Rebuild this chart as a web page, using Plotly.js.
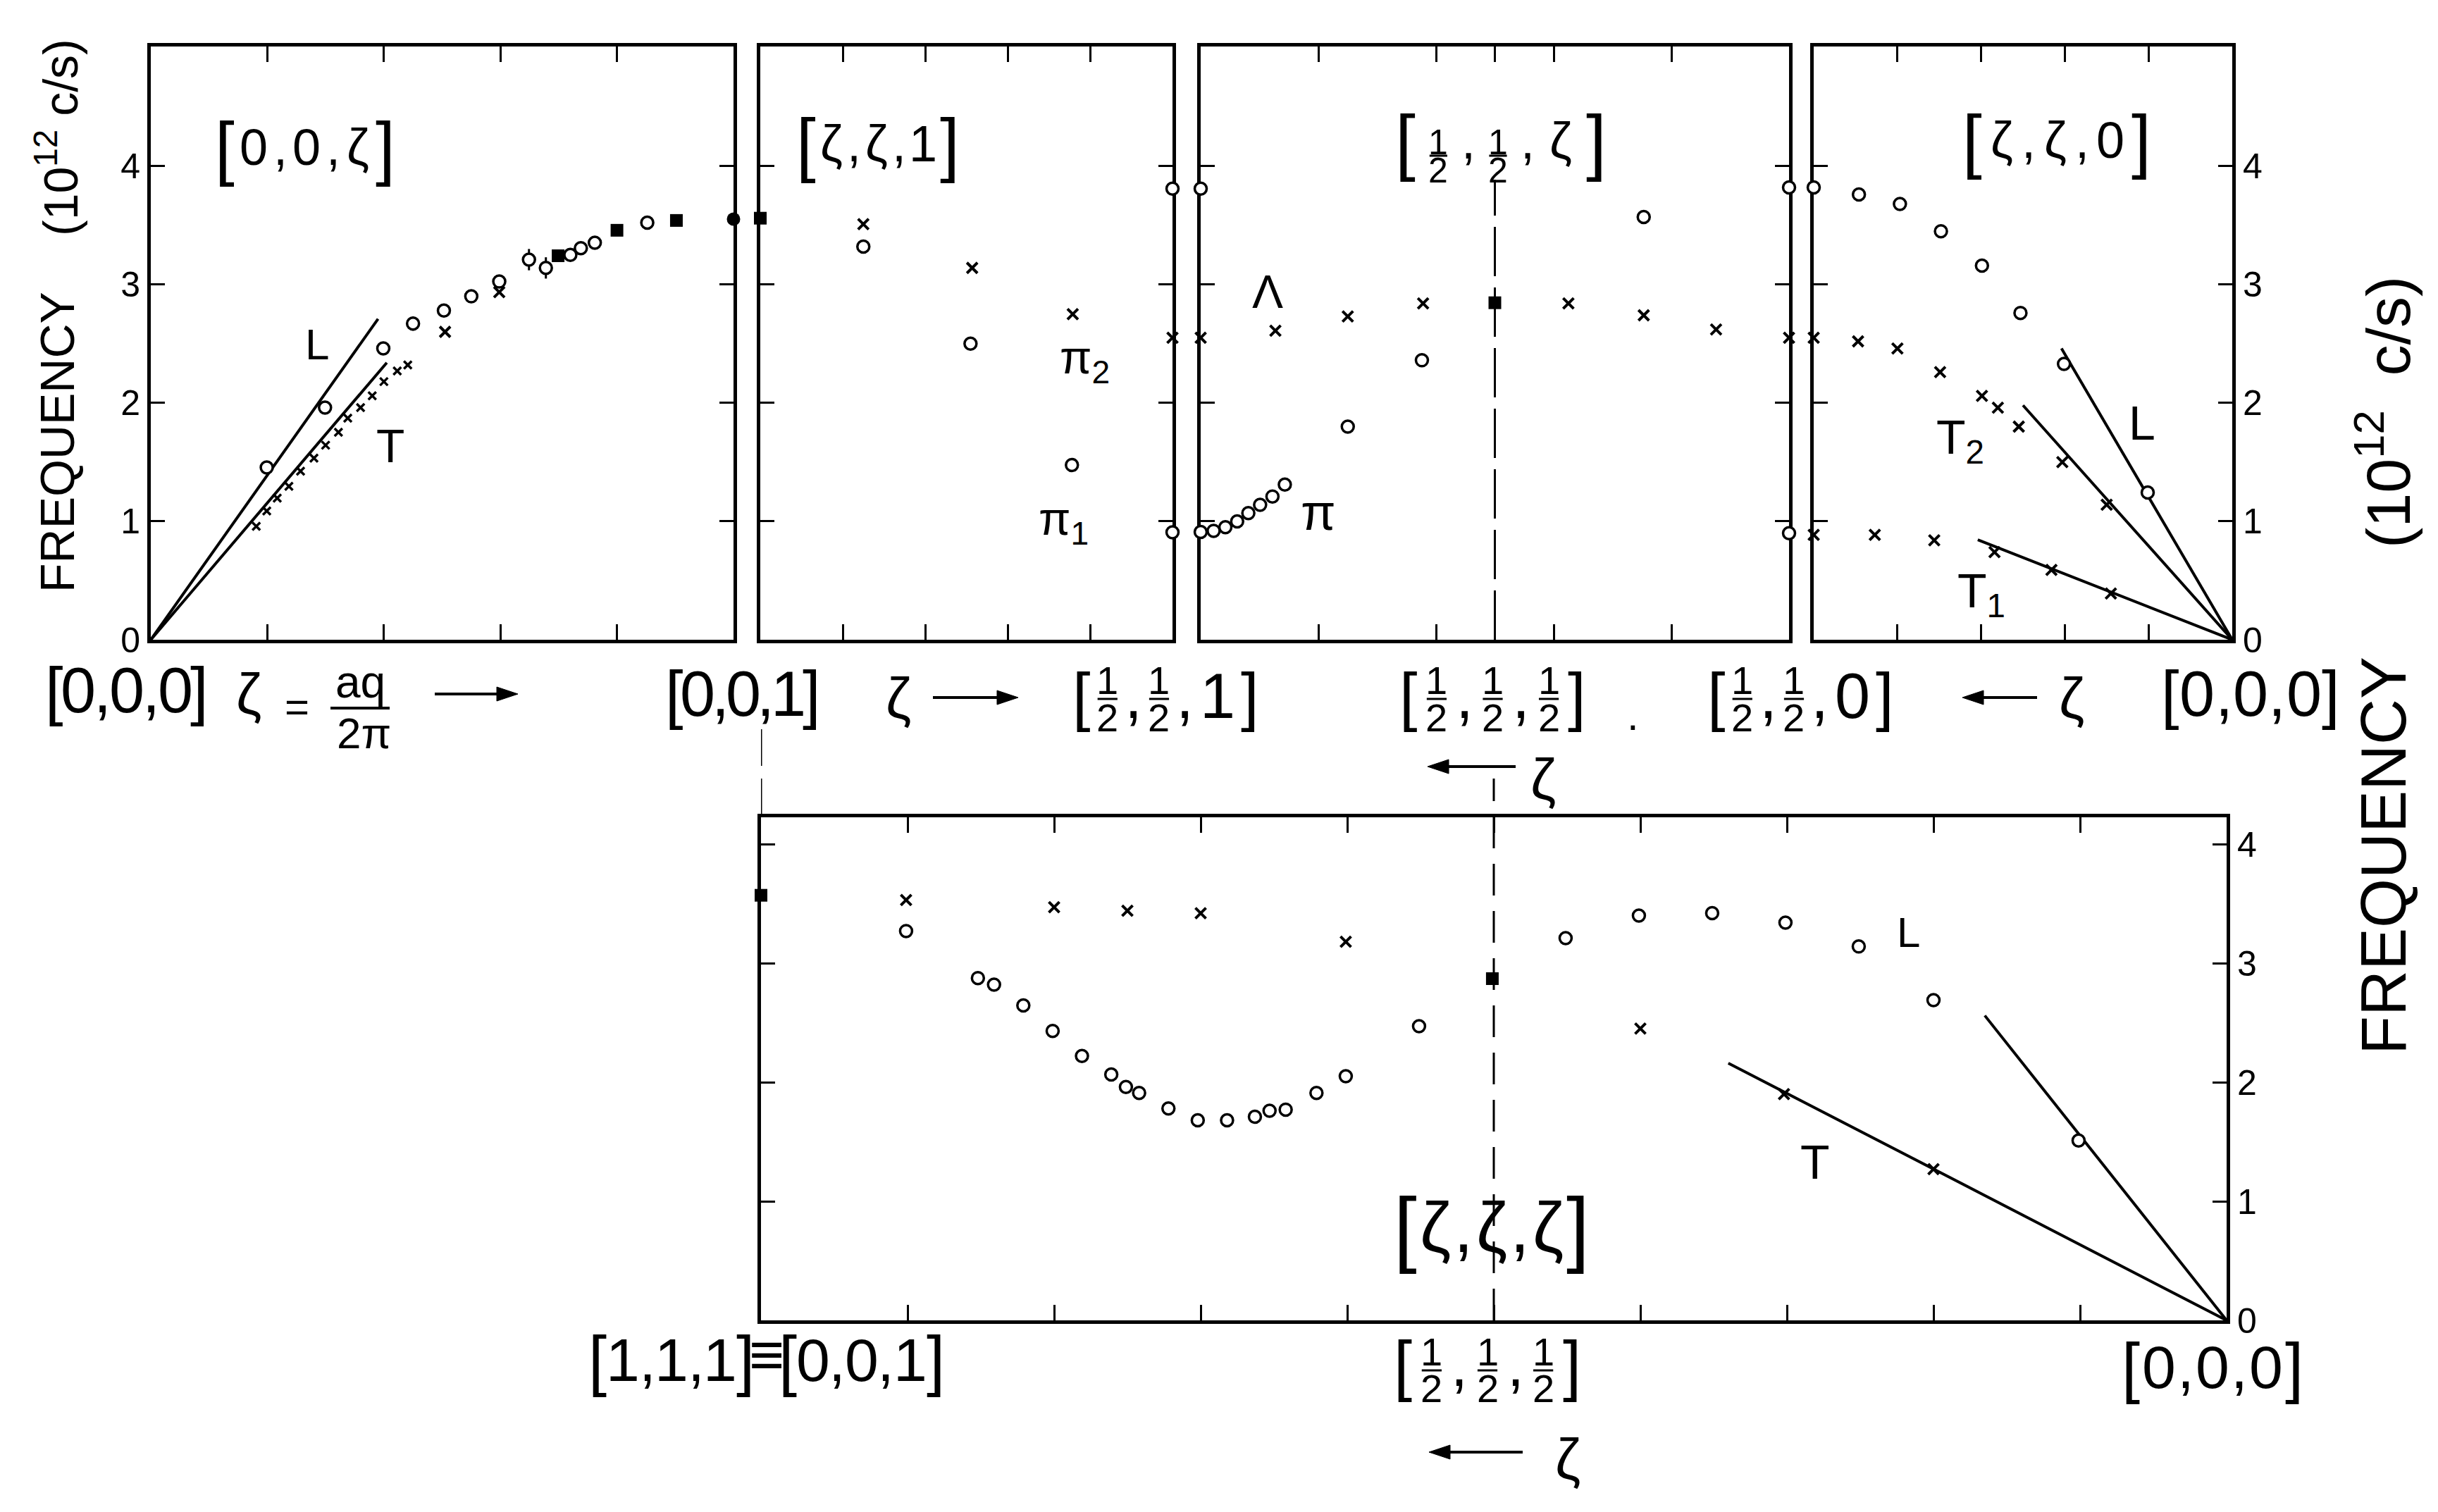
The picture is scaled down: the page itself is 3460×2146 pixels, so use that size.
<!DOCTYPE html>
<html><head><meta charset="utf-8">
<script src="https://cdn.plot.ly/plotly-3.0.1.min.js"></script>
<style>html,body{margin:0;padding:0;background:#fff;}#chart{width:3460px;height:2146px;}</style>
</head><body><div id="chart"></div>
<script>
// ================= DATA =================
// Panel 1 : [0,0,ζ]  (ζ from 0 to 1)
const p1LZeta  = [0.199,0.299,0.399,0.450,0.503,0.550,0.598,0.649,0.678,0.720,0.738,0.762,0.852];
const p1LFreq  = [1.455,1.960,2.460,2.670,2.780,2.900,3.025,3.210,3.140,3.250,3.307,3.353,3.522];
const p1LErr   = [0,0,0,0.06,0,0,0,0.09,0.09,0,0,0,0];
const p1TZeta  = [0.181,0.199,0.217,0.237,0.257,0.280,0.300,0.322,0.338,0.360,0.380,0.400,0.423,0.441];
const p1TFreq  = [0.958,1.087,1.196,1.295,1.424,1.534,1.643,1.752,1.871,1.961,2.060,2.180,2.270,2.320];
const p1XZeta  = [0.505,0.598];
const p1XFreq  = [2.600,2.936];
const p1SqZeta = [0.699,0.800,0.902];
const p1SqFreq = [3.243,3.458,3.541];
const p1DotZeta = [1.0];
const p1DotFreq = [3.552];
const p1LineLZeta = [0,0.390], p1LineLFreq = [0,2.71];
const p1LineTZeta = [0,0.405], p1LineTFreq = [0,2.34];

// Panel 2 : [ζ,ζ,1]  (ζ from 0 to 1/2)
const p2XZeta  = [0.125,0.257,0.379,0.5];
const p2XFreq  = [3.51,3.14,2.75,2.55];
const p2OZeta  = [0.125,0.255,0.378,0.5,0.5];
const p2OFreq  = [3.32,2.50,1.476,3.81,0.907];
const p2SqZeta = [0];
const p2SqFreq = [3.56];

// Panel 3 : [1/2,1/2,ζ]  (ζ from 1 to 0)
const p3OZeta  = [1.0,1.0,0.978,0.958,0.938,0.919,0.899,0.878,0.857,0.750,0.624,0.247,0,0];
const p3OFreq  = [3.81,0.91,0.92,0.95,1.00,1.07,1.14,1.21,1.31,1.80,2.36,3.57,3.82,0.90];
const p3XZeta  = [1.0,0.873,0.750,0.622,0.375,0.247,0.124,0];
const p3XFreq  = [2.55,2.61,2.73,2.84,2.84,2.74,2.62,2.55];
const p3SqZeta = [0.5];
const p3SqFreq = [2.846];

// Panel 4 : [ζ,ζ,0]  (ζ from 1/2 to 0)
const p4OZeta  = [0.5,0.446,0.397,0.348,0.299,0.253,0.201,0.101];
const p4OFreq  = [3.82,3.76,3.68,3.45,3.16,2.76,2.33,1.243];
const p4T2Zeta = [0.5,0.447,0.400,0.349,0.299,0.280,0.255,0.203,0.150];
const p4T2Freq = [2.55,2.52,2.46,2.26,2.06,1.96,1.80,1.50,1.14];
const p4T1Zeta = [0.5,0.427,0.356,0.284,0.216,0.145];
const p4T1Freq = [0.886,0.886,0.84,0.74,0.59,0.39];
const p4LineLZeta  = [0,0.204], p4LineLFreq  = [0,2.46];
const p4LineT2Zeta = [0,0.250], p4LineT2Freq = [0,1.98];
const p4LineT1Zeta = [0,0.304], p4LineT1Freq = [0,0.844];

// Panel 5 : [ζ,ζ,ζ]  (ζ from 1 to 0)
const p5SqZeta = [1.0,0.501];
const p5SqFreq = [3.57,2.87];
const p5XZeta  = [0.901,0.800,0.750,0.700,0.601,0.400,0.302,0.200];
const p5XFreq  = [3.53,3.47,3.44,3.42,3.18,2.45,1.90,1.27];
const p5OZeta  = [0.901,0.852,0.841,0.821,0.801,0.781,0.761,0.751,0.742,0.722,0.702,0.682,0.663,0.653,0.642,0.621,0.601,0.551,0.451,0.401,0.351,0.301,0.251,0.200,0.101];
const p5OFreq  = [3.27,2.875,2.82,2.645,2.43,2.22,2.065,1.96,1.91,1.78,1.68,1.68,1.71,1.76,1.77,1.91,2.05,2.47,3.21,3.40,3.42,3.34,3.14,2.69,1.51];
const p5LineLZeta = [0,0.165], p5LineLFreq = [0,2.56];
const p5LineTZeta = [0,0.340], p5LineTFreq = [0,2.16];

// tick values
const topXTicks1 = [0.2,0.4,0.6,0.8];
const topXTicks2 = [0.1,0.2,0.3,0.4];
const topXTicks3 = [0.8,0.6,0.5,0.4,0.2];
const topXTicks4 = [0.4,0.3,0.2,0.1];
const botXTicks  = [0.1,0.2,0.3,0.4,0.5,0.6,0.7,0.8,0.9];
const freqTicks  = [0,1,2,3,4];
const freqLabels = ['0','1','2','3','4'];

// ================= LAYOUT HELPERS =================
const W = 3460, H = 2146;
const FONT = 'Liberation Sans, Arial, sans-serif';
const px = x => x / W;
const py = y => 1 - y / H;

function xAxis(a, b, range, ticks, anchor) {
  return {domain:[px(a), px(b)], range:range, tickmode:'array', tickvals:ticks,
    ticks:'inside', ticklen:22, tickwidth:3, tickcolor:'black', showticklabels:false,
    showline:true, linewidth:5, linecolor:'black', mirror:'ticks', showgrid:false,
    zeroline:false, anchor:anchor, layer:'below traces', fixedrange:true};
}
function yAxis(a, b, range, anchor, side, labels) {
  return {domain:[py(b), py(a)], range:range, tickmode:'array', tickvals:freqTicks, ticktext:freqLabels,
    ticks:'inside', ticklen:20, tickwidth:3, tickcolor:'black', showticklabels:labels, side:side,
    tickfont:{family:FONT, size:50, color:'black'},
    showline:true, linewidth:5, linecolor:'black', mirror:'ticks', showgrid:false,
    zeroline:false, anchor:anchor, layer:'below traces', fixedrange:true};
}

const OPEN  = {symbol:'circle', size:17, color:'white', line:{color:'black', width:3.5}};
const CROSS = {symbol:'x-thin', size:15, color:'black', line:{color:'black', width:4}};
const SMALLX= {symbol:'x-thin', size:11, color:'black', line:{color:'black', width:3.5}};
const SQ    = {symbol:'square', size:18, color:'black', line:{width:0}};
const DOT   = {symbol:'circle', size:19, color:'black', line:{width:0}};

const traces = [];
function pts(x, y, xa, ya, marker, extra) {
  traces.push(Object.assign({type:'scatter', mode:'markers', x:x, y:y, xaxis:xa, yaxis:ya,
    marker:marker, cliponaxis:false, hoverinfo:'skip', showlegend:false}, extra || {}));
}
function line(x, y, xa, ya) {
  traces.push({type:'scatter', mode:'lines', x:x, y:y, xaxis:xa, yaxis:ya,
    line:{color:'black', width:4}, cliponaxis:false, hoverinfo:'skip', showlegend:false});
}

// lines first
line(p1LineLZeta, p1LineLFreq, 'x', 'y');
line(p1LineTZeta, p1LineTFreq, 'x', 'y');
line(p4LineLZeta, p4LineLFreq, 'x4', 'y4');
line(p4LineT2Zeta, p4LineT2Freq, 'x4', 'y4');
line(p4LineT1Zeta, p4LineT1Freq, 'x4', 'y4');
line(p5LineLZeta, p5LineLFreq, 'x5', 'y5');
line(p5LineTZeta, p5LineTFreq, 'x5', 'y5');

// panel 1
pts(p1TZeta, p1TFreq, 'x', 'y', SMALLX);
pts(p1XZeta, p1XFreq, 'x', 'y', CROSS);
pts(p1LZeta, p1LFreq, 'x', 'y', OPEN, {error_y:{type:'data', array:p1LErr, visible:true, color:'black', thickness:3, width:0}});
pts(p1SqZeta, p1SqFreq, 'x', 'y', SQ);
pts(p1DotZeta, p1DotFreq, 'x', 'y', DOT);
// panel 2
pts(p2XZeta, p2XFreq, 'x2', 'y2', CROSS);
pts(p2OZeta, p2OFreq, 'x2', 'y2', OPEN);
pts(p2SqZeta, p2SqFreq, 'x2', 'y2', SQ);
// panel 3
pts(p3XZeta, p3XFreq, 'x3', 'y3', CROSS);
pts(p3OZeta, p3OFreq, 'x3', 'y3', OPEN);
pts(p3SqZeta, p3SqFreq, 'x3', 'y3', SQ);
// panel 4
pts(p4T2Zeta, p4T2Freq, 'x4', 'y4', CROSS);
pts(p4T1Zeta, p4T1Freq, 'x4', 'y4', CROSS);
pts(p4OZeta, p4OFreq, 'x4', 'y4', OPEN);
// panel 5
pts(p5XZeta, p5XFreq, 'x5', 'y5', CROSS);
pts(p5OZeta, p5OFreq, 'x5', 'y5', OPEN);
pts(p5SqZeta, p5SqFreq, 'x5', 'y5', SQ);

// ================= TEXT =================
const annotations = [];
const shapes = [];
function txt(t, x, y, size, extra) {
  annotations.push(Object.assign({text:t, xref:'paper', yref:'paper', x:px(x), y:py(y),
    xanchor:'center', yanchor:'middle', showarrow:false,
    font:{family:FONT, size:size, color:'black'}}, extra || {}));
}
function hbar(xa, xb, y, w) {
  shapes.push({type:'line', xref:'paper', yref:'paper', x0:px(xa), x1:px(xb), y0:py(y), y1:py(y),
    line:{color:'black', width:w || 3}});
}
// horizontal arrow drawn as a line plus a filled head
function arrow(xh, xt, y) {
  const dir = xt > xh ? 1 : -1;       // tail side
  const hl = 30, hw = 10;
  hbar(xh + dir * hl * 0.8, xt, y, 4);
  const b = xh + dir * hl;
  shapes.push({type:'path', xref:'paper', yref:'paper',
    path:'M' + px(xh) + ',' + py(y) + ' L' + px(b) + ',' + py(y - hw) + ' L' + px(b) + ',' + py(y + hw) + ' Z',
    fillcolor:'black', line:{color:'black', width:1}});
}
const EM = {'[':0.28, ']':0.28, ',':0.28, '0':0.56, '1':0.56, 'ζ':0.5, '≡':0.42, 'F':0.56};
function glyphLabel(s, x0, x1, cy, fs, bs, frac) {
  const toks = Array.from(s);
  const sizeOf = t => (t === '[' || t === ']') ? bs : (t === 'F' ? frac.fs : fs);
  const w = toks.map(t => EM[t] * sizeOf(t));
  const tot = w.reduce((a, b) => a + b, 0);
  const gap = (x1 - x0 - tot) / (toks.length - 1);
  let x = x0;
  toks.forEach((t, i) => {
    const c = x + w[i] / 2;
    if (t === 'F') {
      txt('1', c, cy + frac.d1, frac.fs);
      txt('2', c, cy + frac.d2, frac.fs);
      hbar(c - w[i] * 0.45, c + w[i] * 0.45, cy + frac.db, 3);
    } else if (t === '≡') {
      txt('≡', c, cy - 8, fs);
    } else {
      txt(t, c, cy, sizeOf(t));
    }
    x += w[i] + gap;
  });
}

// panel titles
glyphLabel('[0,0,ζ]', 305, 561, 209, 72, 100);
glyphLabel('[ζ,ζ,1]', 1130, 1362, 204, 72, 100);
glyphLabel('[F,F,ζ]', 1980, 2280, 200, 72, 104, {fs:50, d1:2, d2:42, db:21});
glyphLabel('[ζ,ζ,0]', 2785, 3053, 199, 72, 100);

// symmetry-point labels (row under top panels)
const rowFrac = {fs:56, d1:-22, d2:30, db:4};
glyphLabel('[0,0,0]', 64, 296, 980, 90, 92);
glyphLabel('[0,0,1]', 944, 1165, 985, 90, 92);
glyphLabel('[F,F,1]', 1522, 1787, 988, 90, 92, rowFrac);
glyphLabel('[F,F,F]', 1986, 2251, 988, 90, 92, rowFrac);
glyphLabel('[F,F,0]', 2423, 2688, 988, 90, 92, rowFrac);
glyphLabel('[0,0,0]', 3067, 3321, 985, 90, 92);
txt('.', 2317, 1015, 60);

// ζ = aq/2π  →
txt('ζ', 353, 984, 82);
txt('=', 421, 1003, 60);
txt('aq', 511, 968, 64);
hbar(469, 553, 1005, 4);
txt('2π', 516, 1040, 62);
arrow(735, 617, 985);
txt('ζ', 1275, 990, 82);
arrow(1445, 1324, 990);
arrow(2785, 2891, 990);
txt('ζ', 2940, 990, 82);
arrow(2026, 2151, 1088);
txt('ζ', 2190, 1105, 82);

// bottom panel labels
glyphLabel('[1,1,1]≡[0,0,1]', 835, 1341, 1930, 86, 94);
glyphLabel('[F,F,F]', 1978, 2244, 1937, 86, 94, {fs:56, d1:-19, d2:33, db:8});
glyphLabel('[0,0,0]', 3011, 3269, 1940, 86, 94);
glyphLabel('[ζ,ζ,ζ]', 1978, 2256, 1742, 100, 118);
arrow(2028, 2161, 2061);
txt('ζ', 2225, 2070, 82);

// branch labels
txt('L', 450, 489, 62);
txt('T', 554, 633, 66);
txt('π<sub>2</sub>', 1539, 512, 66);
txt('π<sub>1</sub>', 1509, 741, 66);
txt('Λ', 1799, 414, 66);
txt('π', 1871, 727, 72);
txt('L', 3040, 600, 68);
txt('T<sub>2</sub>', 2782, 625, 68);
txt('T<sub>1</sub>', 2812, 843, 68);
txt('L', 2708, 1323, 60);
txt('T', 2576, 1649, 68);

// axis titles (vertical)
txt('FREQUENCY', 81, 628, 68, {textangle:-90});
txt('(10<sup>12</sup> c/s)', 81, 195, 68, {textangle:-90});
txt('FREQUENCY', 3383, 1215, 90, {textangle:-90});
txt('(10<sup>12</sup>\u00a0\u00a0c/s)', 3383, 585, 88, {textangle:-90});

// dashed guide lines at [1/2,1/2,1/2] and [0,0,1]
shapes.push({type:'line', xref:'x3', x0:0.5, x1:0.5, yref:'paper', y0:py(908), y1:py(255),
  line:{color:'black', width:3, dash:'70px,16px'}});
shapes.push({type:'line', xref:'x5', x0:0.5, x1:0.5, yref:'paper', y0:py(1874), y1:py(1105),
  line:{color:'black', width:3, dash:'45px,22px'}});
shapes.push({type:'line', xref:'x5', x0:1, x1:1, yref:'paper', y0:py(1160), y1:py(1035),
  line:{color:'black', width:3, dash:'55px,18px'}});

const TOP0 = 66, TOP1 = 908, TOPMAX = 5.01;
const BOT0 = 1160, BOT1 = 1874, BOTMAX = 4.225;

const layout = {
  width:W, height:H, autosize:false,
  margin:{l:0, r:0, t:0, b:0, pad:0},
  paper_bgcolor:'white', plot_bgcolor:'white', showlegend:false,
  font:{family:FONT, color:'black'},
  xaxis:  xAxis(214, 1041, [0, 1], topXTicks1, 'y'),
  yaxis:  yAxis(TOP0, TOP1, [0, TOPMAX], 'x', 'left', true),
  xaxis2: xAxis(1079, 1664, [0, 0.5], topXTicks2, 'y2'),
  yaxis2: yAxis(TOP0, TOP1, [0, TOPMAX], 'x2', 'left', false),
  xaxis3: xAxis(1704, 2539, [1, 0], topXTicks3, 'y3'),
  yaxis3: yAxis(TOP0, TOP1, [0, TOPMAX], 'x3', 'left', false),
  xaxis4: xAxis(2574, 3168, [0.5, 0], topXTicks4, 'y4'),
  yaxis4: yAxis(TOP0, TOP1, [0, TOPMAX], 'x4', 'right', true),
  xaxis5: xAxis(1080, 3160, [1, 0], botXTicks, 'y5'),
  yaxis5: yAxis(BOT0, BOT1, [0, BOTMAX], 'x5', 'right', true),
  annotations:annotations,
  shapes:shapes
};

Plotly.newPlot('chart', traces, layout, {staticPlot:true, displayModeBar:false});
</script>
</body></html>
